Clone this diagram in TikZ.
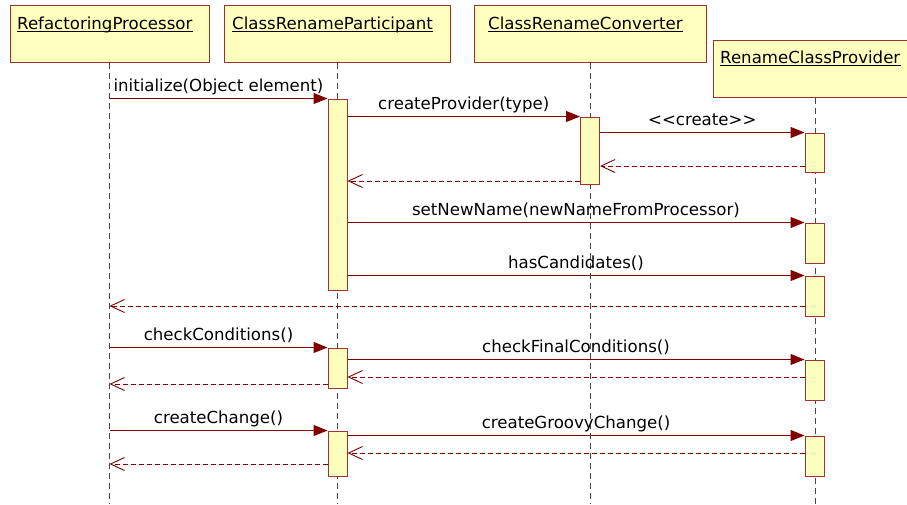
\documentclass[tikz,border=0pt]{standalone}
\usepackage{fontspec}
\setmainfont{DejaVu Sans}
\usetikzlibrary{arrows.meta}
\definecolor{boxc}{RGB}{160,50,50}
\definecolor{fillc}{RGB}{255,255,190}
\definecolor{arrowc}{RGB}{128,0,0}
\definecolor{lifec}{RGB}{70,70,70}
\tikzset{
  head/.style={draw=boxc, fill=fillc, line width=1pt, inner sep=0pt, minimum width=#1, minimum height=57pt},
  act/.style={draw=boxc, fill=fillc, line width=1pt, inner sep=0pt, minimum width=19pt, minimum height=#1},
  hlabel/.style={anchor=base west, inner sep=0pt},
  lifeline/.style={draw=lifec, line width=0.9pt, dash pattern=on 6pt off 4pt},
  call/.style={draw=arrowc, line width=1pt, -{Triangle[length=14pt,width=11pt]}},
  ret/.style={draw=arrowc, line width=0.9pt, dash pattern=on 5pt off 3pt, -{Straight Barb[length=14pt,width=13pt,line width=0.9pt]}},
  msg/.style={midway, anchor=base, yshift=7pt, inner sep=0pt, text=black},
  uline/.style={line width=1.1pt, black}
}
\begin{document}
\begin{tikzpicture}[x=1pt, y=-1pt, font=\fontsize{16.6}{20}\selectfont]
\useasboundingbox (0,0) rectangle (907,504);
% heads
\node[head=199pt] (hRP) at (109.5,33.5) {};
\node[head=226pt] (hCP) at (337.5,33.5) {};
\node[head=232pt] (hCC) at (590,33.5) {};
\node[head=204pt] (hRCP) at (815,68.5) {};
% head labels
\node[hlabel] (lRP) at (17,29) {RefactoringProcessor};
\node[hlabel] (lCP) at (232,29) {ClassRenameParticipant};
\node[hlabel] (lCC) at (488,29) {ClassRenameConverter};
\node[hlabel] (lRCP) at (720,63) {RenameClassProvider};
\foreach \l in {lRP,lCP,lCC,lRCP}{
  \draw[uline] ([yshift=-2.5pt]\l.base west) -- ([yshift=-2.5pt]\l.base east);
}
% lifelines
\foreach \h in {hRP,hCP,hCC,hRCP}{
  \draw[lifeline] (\h.south) -- (\h.south |- 0,504);
}
% activations
\node[act=191pt] (P1) at (337.5,194.5) {};
\node[act=67pt]  (C1) at (590,150.5) {};
\node[act=39pt]  (R1) at (814.5,152.5) {};
\node[act=40pt]  (R2) at (814.5,243) {};
\node[act=40pt]  (R3) at (814.5,296) {};
\node[act=40pt]  (P2) at (337.5,368) {};
\node[act=40pt]  (R4) at (814.5,380) {};
\node[act=45pt]  (P3) at (337.5,453.5) {};
\node[act=40pt]  (R5) at (814.5,456) {};
% messages
\draw[call] (hRP.south |- P1.north) -- (P1.north west) node[msg] {initialize(Object element)};
\draw[call] (P1.east |- C1.north) -- (C1.north west) node[msg] {createProvider(type)};
\draw[call] (C1.east |- R1.north) -- (R1.north west) node[msg] {<{}<create>{}>};
\draw[ret] (R1.west |- 0,166) -- (C1.east |- 0,166);
\draw[ret] (C1.west |- 0,181) -- (P1.east |- 0,181);
\draw[call] (P1.east |- R2.north) -- (R2.north west) node[msg] {setNewName(newNameFromProcessor)};
\draw[call] (P1.east |- R3.north) -- (R3.north west) node[msg] {hasCandidates()};
\draw[ret] (R3.west |- 0,306) -- (hRP.south |- 0,306);
\draw[call] (hRP.south |- P2.north) -- (P2.north west) node[msg] {checkConditions()};
\draw[call] (P2.east |- R4.north) -- (R4.north west) node[msg] {checkFinalConditions()};
\draw[ret] (R4.west |- 0,377) -- (P2.east |- 0,377);
\draw[ret] (P2.west |- 0,384) -- (hRP.south |- 0,384);
\draw[call] (hRP.south |- P3.north) -- (P3.north west) node[msg] {createChange()};
\draw[call] (P3.east |- R5.north) -- (R5.north west) node[msg] {createGroovyChange()};
\draw[ret] (R5.west |- 0,453) -- (P3.east |- 0,453);
\draw[ret] (P3.west |- 0,464) -- (hRP.south |- 0,464);
\end{tikzpicture}
\end{document}
